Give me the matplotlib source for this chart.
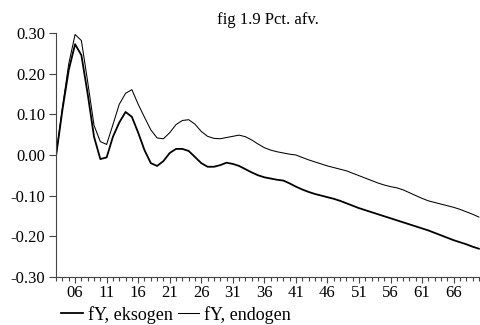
import numpy as np
import matplotlib
matplotlib.use("Agg")
from matplotlib import pyplot as plt
from matplotlib.ticker import FormatStrFormatter, MultipleLocator

plt.rcParams['font.family'] = ['Liberation Serif', 'DejaVu Serif']
plt.rcParams['axes.unicode_minus'] = False

years = np.arange(2003, 2071)

eksogen = [0.000, 0.112, 0.210, 0.273, 0.246, 0.150, 0.045, -0.010, -0.006, 0.045,
           0.080, 0.106, 0.094, 0.055, 0.012, -0.020, -0.027, -0.015, 0.005, 0.015,
           0.015, 0.010, -0.005, -0.020, -0.029, -0.029, -0.025, -0.019, -0.022, -0.027,
           -0.035, -0.043, -0.050, -0.055, -0.058, -0.061, -0.063, -0.070, -0.078, -0.085,
           -0.091, -0.096, -0.100, -0.104, -0.108, -0.113, -0.119, -0.125, -0.131, -0.136,
           -0.141, -0.146, -0.151, -0.156, -0.161, -0.166, -0.171, -0.176, -0.181, -0.186,
           -0.192, -0.198, -0.204, -0.210, -0.215, -0.220, -0.226, -0.231]

endogen = [0.000, 0.118, 0.225, 0.297, 0.282, 0.180, 0.073, 0.033, 0.026, 0.075,
           0.125, 0.152, 0.161, 0.125, 0.093, 0.062, 0.042, 0.040, 0.055, 0.075,
           0.085, 0.087, 0.076, 0.058, 0.046, 0.041, 0.040, 0.043, 0.046, 0.049,
           0.045, 0.037, 0.027, 0.018, 0.012, 0.008, 0.005, 0.002, 0.000, -0.006,
           -0.012, -0.017, -0.022, -0.027, -0.031, -0.035, -0.039, -0.045, -0.051, -0.057,
           -0.063, -0.069, -0.074, -0.078, -0.081, -0.086, -0.093, -0.100, -0.107, -0.113,
           -0.117, -0.121, -0.125, -0.129, -0.134, -0.140, -0.146, -0.153]

tick_years = np.arange(2006, 2070, 5)
tick_labels = ["%02d" % (y % 100) for y in tick_years]

fig = plt.figure(figsize=(4.8, 3.25), dpi=100)
ax = fig.add_axes([0.117, 0.1486, 0.882, 0.749])

ax.plot(years, eksogen, color='black', lw=1.3, label="fY, eksogen")
ax.plot(years, endogen, color='black', lw=0.75, label="fY, endogen")

ax.set_xlim(2003, 2070.1)
ax.set_ylim(-0.30, 0.30)
ax.yaxis.set_major_locator(MultipleLocator(0.1))
ax.yaxis.set_major_formatter(FormatStrFormatter('%.2f'))
ax.set_xticks(tick_years)
ax.set_xticklabels(tick_labels)
ax.xaxis.set_minor_locator(MultipleLocator(1))

for s in ['top', 'right']:
    ax.spines[s].set_visible(False)
for s in ['left', 'bottom']:
    ax.spines[s].set_linewidth(0.8)
    ax.spines[s].set_color('#444444')

ax.tick_params(axis='y', direction='out', length=5, width=0.8, labelsize=12, pad=3, color='#444444')
ax.tick_params(axis='x', which='major', direction='out', length=4, width=0.8, labelsize=12, pad=2, color='#444444')
ax.tick_params(axis='x', which='minor', direction='out', length=3, width=0.8, color='#444444')

ax.set_title("fig 1.9 Pct. afv.", fontsize=12, pad=7)

fig.legend(loc='center left', bbox_to_anchor=(61 / 480, 0.032), ncol=2, frameon=False,
           fontsize=13, borderpad=0, borderaxespad=0, handlelength=1.2,
           handletextpad=0.28, columnspacing=0.28)

plt.savefig('out.png', dpi=100)
